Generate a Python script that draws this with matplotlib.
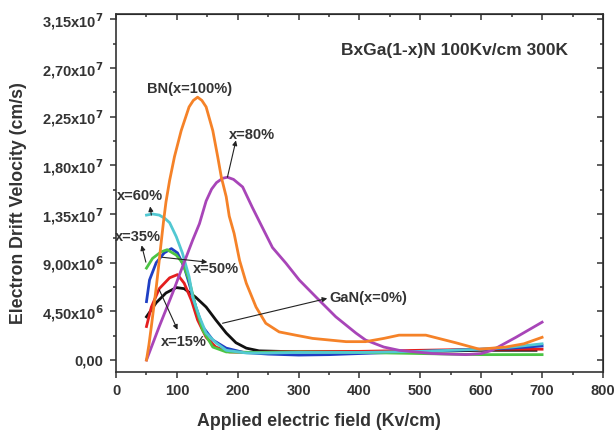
import matplotlib.pyplot as plt
from matplotlib.ticker import MultipleLocator, FixedLocator

plt.rcParams['font.family'] = ['Liberation Sans', 'DejaVu Sans']
plt.rcParams['font.weight'] = 'bold'

# BN (x=100%)
x_bn = [50, 54, 58, 62, 66, 70, 74, 78, 82, 88, 96, 107, 120, 127, 134, 141, 148, 159, 167, 173,
        181, 186, 194, 203, 214, 230, 246, 268, 295, 323, 378, 410, 440, 465, 509, 530, 558,
        597, 640, 670, 700]
v_bn = [0, 1.4, 3.1, 4.9, 6.7, 8.7, 10.8, 12.8, 14.6, 16.6, 18.8, 21.2, 23.4, 24.0, 24.3, 24.0,
        23.4, 21.2, 18.8, 16.9, 15.1, 13.3, 11.7, 9.2, 7.1, 4.9, 3.4, 2.6, 2.3, 2.0, 1.7, 1.7,
        2.0, 2.3, 2.3, 2.0, 1.6, 1.0, 1.2, 1.5, 2.1]

# x=80%
x_80 = [50, 71, 93, 109, 126, 137, 148, 157, 165, 175, 183, 193, 208, 224, 240, 257, 279, 301,
        329, 361, 394, 410, 440, 465, 520, 575, 600, 618, 657, 700]
v_80 = [0, 3.1, 6.2, 8.6, 11.1, 12.6, 14.7, 15.8, 16.4, 16.8, 16.9, 16.7, 16.0, 14.1, 12.3,
        10.4, 8.96, 7.4, 5.8, 4.0, 2.5, 1.85, 1.2, 0.9, 0.6, 0.5, 0.6, 0.9, 2.1, 3.5]

# x=60%
x_60 = [50, 60, 71, 80, 88, 99, 109, 120, 126, 137, 148, 164, 181, 214, 250, 300, 400, 500,
        600, 650, 700]
v_60 = [13.4, 13.5, 13.4, 13.1, 12.7, 11.4, 9.9, 7.7, 5.8, 4.0, 2.5, 1.6, 0.9, 0.65, 0.65,
        0.7, 0.7, 0.8, 1.0, 1.2, 1.5]

# x=50%
x_50 = [50, 55, 66, 79, 91, 101, 112, 120, 131, 142, 159, 181, 210, 250, 300, 350, 400, 500,
        600, 650, 700]
v_50 = [5.4, 7.4, 9.0, 9.9, 10.3, 9.9, 8.6, 7.1, 4.9, 3.1, 1.85, 1.1, 0.7, 0.55, 0.46, 0.5,
        0.6, 0.8, 1.0, 1.1, 1.3]

# x=35%
x_35 = [50, 60, 74, 84, 99, 109, 120, 131, 142, 159, 181, 230, 300, 400, 500, 600, 700]
v_35 = [8.5, 9.4, 10.0, 10.2, 9.7, 9.0, 7.4, 4.9, 2.8, 1.2, 0.75, 0.7, 0.75, 0.7, 0.6, 0.5,
        0.5]

# x=15%
x_15 = [50, 58, 71, 88, 101, 112, 124, 134, 148, 164, 186, 220, 300, 400, 500, 600, 700]
v_15 = [3.1, 4.9, 6.6, 7.6, 7.9, 7.1, 5.5, 3.7, 2.1, 1.2, 0.75, 0.7, 0.8, 0.8, 0.9, 1.0, 1.0]

# GaN (x=0%)
x_gan = [50, 66, 82, 99, 112, 131, 148, 164, 181, 197, 214, 235, 270, 300, 400, 500, 600, 690]
v_gan = [4.0, 5.3, 6.2, 6.7, 6.6, 5.8, 4.9, 3.7, 2.5, 1.6, 1.1, 0.85, 0.8, 0.8, 0.8, 0.8, 0.9,
         0.9]

ytick_vals = [0, 4.5e6, 9.0e6, 1.35e7, 1.80e7, 2.25e7, 2.70e7, 3.15e7]
ytick_labels = ['0,00', '4,50x10$^{6}$', '9,00x10$^{6}$', '1,35x10$^{7}$', '1,80x10$^{7}$',
                '2,25x10$^{7}$', '2,70x10$^{7}$', '3,15x10$^{7}$']

fig = plt.figure(figsize=(6.14, 4.34), dpi=100)
ax = fig.add_axes([0.189, 0.143, 0.793, 0.825])

series = [
    (x_gan, v_gan, '#111111'),
    (x_15, v_15, '#e41e1e'),
    (x_50, v_50, '#1f3fc4'),
    (x_35, v_35, '#4cc444'),
    (x_60, v_60, '#52c8d2'),
    (x_80, v_80, '#a845b8'),
    (x_bn, v_bn, '#f58228'),
]
for xs, vs, c in series:
    ax.plot(xs, [v * 1e6 for v in vs], color=c, lw=2.0, solid_joinstyle='round')

ax.set_xlim(0, 800)
ax.set_ylim(-1.1e6, 3.2e7)
ax.xaxis.set_major_locator(MultipleLocator(100))
ax.xaxis.set_minor_locator(MultipleLocator(50))
ax.yaxis.set_major_locator(FixedLocator(ytick_vals))
ax.yaxis.set_minor_locator(MultipleLocator(2.25e6))
ax.set_yticklabels(ytick_labels)

tc = '#333333'
ax.tick_params(which='both', direction='out', colors=tc, labelsize=10.5, width=1.1)
ax.tick_params(which='major', length=4, pad=5)
ax.tick_params(which='minor', length=2.5)
for s in ax.spines.values():
    s.set_linewidth(1.2)
    s.set_color(tc)

# inward ticks on top and right edges
top = ax.secondary_xaxis('top')
top.xaxis.set_major_locator(MultipleLocator(100))
top.xaxis.set_minor_locator(MultipleLocator(50))
top.tick_params(which='both', direction='in', labeltop=False, colors=tc, width=1.1)
top.tick_params(which='major', length=4)
top.tick_params(which='minor', length=2.5)
right = ax.secondary_yaxis('right')
right.yaxis.set_major_locator(FixedLocator(ytick_vals))
right.yaxis.set_minor_locator(MultipleLocator(2.25e6))
right.tick_params(which='both', direction='in', labelright=False, colors=tc, width=1.1)
right.tick_params(which='major', length=4)
right.tick_params(which='minor', length=2.5)

ax.set_xlabel('Applied electric field (Kv/cm)', fontsize=12.8, fontweight='bold', color=tc)
ax.set_ylabel('Electron Drift Velocity (cm/s)', fontsize=12.8, fontweight='bold', color=tc)
ax.xaxis.set_label_coords(0.417, -0.115)
ax.yaxis.set_label_coords(-0.182, 0.472)

ax.text(370, 2.86e7, 'BxGa(1-x)N 100Kv/cm 300K', fontsize=12.5, color=tc, va='center')

arrow = dict(arrowstyle='-|>', color='#222222', lw=0.8, mutation_scale=7, shrinkA=0, shrinkB=0)
fs = 10.5
ax.text(120, 2.51e7, 'BN(x=100%)', fontsize=fs, color=tc, ha='center', va='center')
ax.annotate('', xy=(197, 2.03e7), xytext=(183, 1.69e7), arrowprops=arrow)
ax.text(186, 2.08e7, 'x=80%', fontsize=fs, color=tc, va='center')
ax.annotate('', xy=(56, 1.42e7), xytext=(58, 1.34e7), arrowprops=arrow)
ax.text(2, 1.52e7, 'x=60%', fontsize=fs, color=tc, va='center')
ax.annotate('', xy=(42, 1.06e7), xytext=(49, 9.05e6), arrowprops=arrow)
ax.text(-2, 1.14e7, 'x=35%', fontsize=fs, color=tc, va='center')
ax.annotate('', xy=(150, 9.05e6), xytext=(76, 9.5e6), arrowprops=arrow)
ax.text(126, 8.4e6, 'x=50%', fontsize=fs, color=tc, va='center')
ax.annotate('', xy=(101, 2.8e6), xytext=(71, 6.5e6), arrowprops=arrow)
ax.text(74, 1.66e6, 'x=15%', fontsize=fs, color=tc, va='center')
ax.annotate('', xy=(347, 5.7e6), xytext=(175, 3.4e6), arrowprops=arrow)
ax.text(350, 5.7e6, 'GaN(x=0%)', fontsize=fs, color=tc, va='center')

fig.savefig('out.png', dpi=100)
